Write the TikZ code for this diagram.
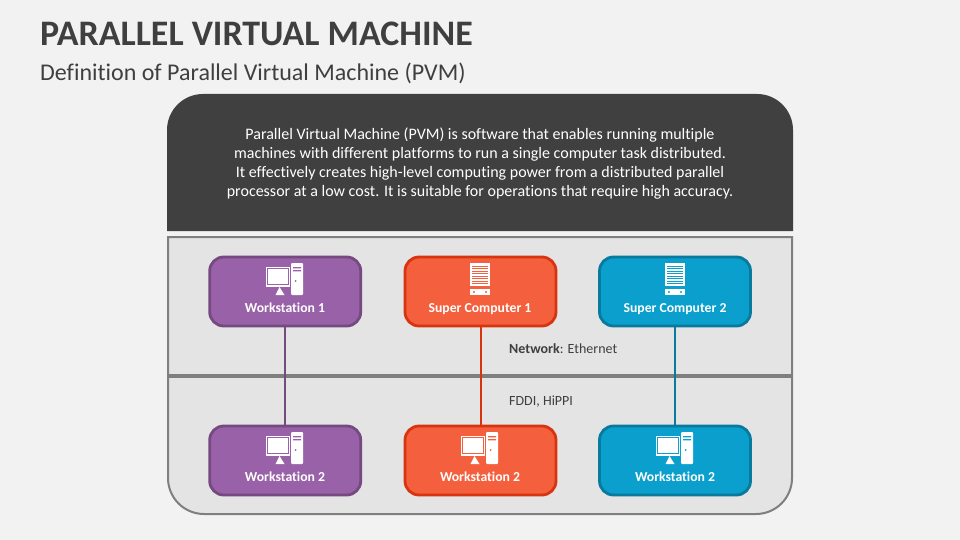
\documentclass[tikz,border=0pt]{standalone}
\usepackage{fontspec}
\setmainfont[Ligatures=CommonOff]{Carlito}
\definecolor{pagegray}{HTML}{F2F2F2}
\definecolor{bandgray}{HTML}{E4E4E4}
\definecolor{linegray}{HTML}{7F7F7F}
\definecolor{darkbox}{HTML}{404040}
\definecolor{titlegray}{HTML}{3F3F3F}
\definecolor{purplea}{HTML}{9961A7}
\definecolor{purpleb}{HTML}{744A80}
\definecolor{orangea}{HTML}{F45F3D}
\definecolor{orangeb}{HTML}{D8340F}
\definecolor{bluea}{HTML}{0A9FCD}
\definecolor{blueb}{HTML}{077A9E}
\tikzset{
    unit/.style={draw=#1, line width=2.8pt, rounded corners=14pt, minimum width=151pt,
        minimum height=69pt, inner sep=0pt},
    unitlabel/.style={text=white, anchor=base, inner sep=0pt, font=\fontsize{13.7}{16}\selectfont\bfseries},
    note/.style={text=titlegray, anchor=base west, inner sep=0pt, font=\fontsize{14}{16}\selectfont},
    % the desktop drawn around a local origin at the icon centre
    pics/desktop/.style={code={
        \fill[white] (-19,-12) rectangle (5,8);
        \draw[#1, line width=0.8pt] (-17.2,-10.2) rectangle (3.4,5.2);
        \fill[white] (-5.5,8) -- (-0.5,16) -- (-9.5,16) -- cycle;
        \fill[white,rounded corners=1pt] (6,-16) rectangle (18,16);
        \fill[#1] (8,-12) rectangle (16,-10.6) (8,-9) rectangle (16,-7.6);
        \fill[#1] (10.5,2) circle (1);
    }},
    pics/rack/.style={code={
        \fill[white] (-10,-16) rectangle (10,16);
        \foreach \y in {-13.5,-11,...,4} {
            \fill[#1] (-7.7,\y) rectangle (7.7,\y+1.2);
        }
        \fill[#1] (-10,7) rectangle (10,10);
        \fill[#1] (-6,13) circle (1.2) (6,13) circle (1.2);
    }}
}
\begin{document}
\begin{tikzpicture}[x=1pt,y=-1pt]
    \useasboundingbox (0,0) rectangle (960,540);
    \fill[pagegray] (0,0) rectangle (960,540);

    % heading
    \node[anchor=base west, text=titlegray, inner sep=0pt, font=\fontsize{35.9}{40}\selectfont\bfseries] (heading) at (40,46) {PARALLEL VIRTUAL MACHINE};
    \node[anchor=base west, text=titlegray, inner sep=0pt, font=\fontsize{24}{28}\selectfont] (subheading) at (40,81) {Definition of Parallel Virtual Machine (PVM)};

    % dark box
    \fill[darkbox] (167,231) -- (167,130) arc (180:270:36) -- (757,94) arc (270:360:36) -- (793,231) -- cycle;
    \node[text=white, align=center, anchor=center, font=\fontsize{16}{19.2}\selectfont] (definition) at (480,163.5) {Parallel Virtual Machine (PVM) is software that enables running multiple\\
        machines with different platforms to run a single computer task distributed.\\
        It effectively creates high-level computing power from a distributed parallel\\
        processor at a low cost. It is suitable for operations that require high accuracy.};

    % bands
    \draw[linegray, line width=2pt, fill=bandgray] (168,237) -- (168,478) arc (180:90:36) -- (756,514) arc (90:0:36) -- (792,237) -- cycle;
    \draw[linegray, line width=4.5pt] (168,376) -- (792,376);

    % upper row
    \node[unit=purpleb, fill=purplea] (ws1) at (285.2,291.5) {};
    \node[unit=orangeb, fill=orangea] (sc1) at (480.5,291.5) {};
    \node[unit=blueb, fill=bluea] (sc2) at (675,291.5) {};
    % lower row
    \node[unit=purpleb, fill=purplea] (ws2) at (285.2,460.5) {};
    \node[unit=orangeb, fill=orangea] (ws3) at (480.5,460.5) {};
    \node[unit=blueb, fill=bluea] (ws4) at (675,460.5) {};

    % links
    \draw[purpleb, line width=2pt] (ws1) -- (ws2);
    \draw[orangeb, line width=2pt] (sc1) -- (ws3);
    \draw[blueb, line width=2pt] (sc2) -- (ws4);

    % icons
    \pic at (285,279) {desktop=purplea};
    \pic at (480,279) {rack=orangea};
    \pic at (675,279) {rack=bluea};
    \pic at (285,448) {desktop=purplea};
    \pic at (480,448) {desktop=orangea};
    \pic at (675,448) {desktop=bluea};

    \node[unitlabel] (ws1label) at (285,312) {Workstation 1};
    \node[unitlabel] (sc1label) at (480,312) {Super Computer 1};
    \node[unitlabel] (sc2label) at (675,312) {Super Computer 2};
    \node[unitlabel] (ws2label) at (285,481) {Workstation 2};
    \node[unitlabel] (ws3label) at (480,481) {Workstation 2};
    \node[unitlabel] (ws4label) at (675,481) {Workstation 2};

    \node[note] (network) at (509,353) {\textbf{Network}: Ethernet};
    \node[note] (fddi) at (509,405) {FDDI, HiPPI};
\end{tikzpicture}
\end{document}
